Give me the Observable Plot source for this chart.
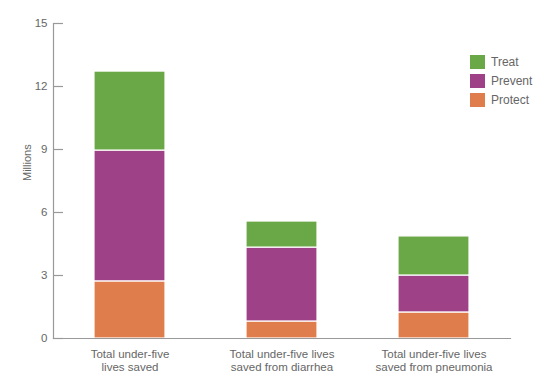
<!DOCTYPE html>
<html>
<head>
<meta charset="utf-8">
<script src="https://cdn.jsdelivr.net/npm/d3@7"></script>
<script src="https://cdn.jsdelivr.net/npm/@observablehq/plot@0.6"></script>
<style>
  body { margin: 0; background: #fff; font-family: "Liberation Sans", Arial, sans-serif; }
  #wrap { position: relative; width: 559px; height: 377px; }
  #legend { position: absolute; left: 470px; top: 52px; font-size: 12px; color: #666; }
  .item { display: flex; align-items: center; height: 19px; }
  .sw { width: 15px; height: 14px; margin-right: 6px; }
</style>
</head>
<body>
<div id="wrap"><div id="legend"></div></div>
<script>
const categories = [
  "Total under-five\nlives saved",
  "Total under-five lives\nsaved from diarrhea",
  "Total under-five lives\nsaved from pneumonia"
];
const seriesNames = ["Protect", "Prevent", "Treat"];
const protect = [2.72, 0.81, 1.24];
const prevent = [6.23, 3.52, 1.76];
const treat = [3.76, 1.24, 1.86];
const colors = ["#e07d4c", "#9f4186", "#6aa746"];
const yTicks = [0, 3, 6, 9, 12, 15];

const values = [protect, prevent, treat];
const data = [];
seriesNames.forEach((s, si) => categories.forEach((c, ci) => data.push({category: c, series: s, value: values[si][ci]})));

const chart = Plot.plot({
  width: 559,
  height: 377,
  marginLeft: 53,
  marginRight: 49,
  marginTop: 23,
  marginBottom: 39,
  style: {fontFamily: "'Liberation Sans', Arial, sans-serif", fontSize: "11.5px", color: "#666", background: "#fff"},
  x: {domain: categories, paddingInner: 0.53, paddingOuter: 0.265},
  y: {domain: [0, 15]},
  color: {domain: seriesNames, range: colors},
  marks: [
    Plot.barY(data, Plot.stackY({x: "category", y: "value", fill: "series", order: seriesNames, stroke: "#fff", strokeWidth: 1.2})),
    Plot.axisX({label: null, tickSize: 0, tickPadding: 10, lineHeight: 1.15, fontSize: 11.5, fill: "#666"}),
    Plot.axisY({ticks: yTicks, label: null, tickSize: 0, tickPadding: 6, fontSize: 11.5, fill: "#666"}),
    Plot.frame({anchor: "bottom", stroke: "#999", strokeWidth: 1.2}),
    Plot.frame({anchor: "left", stroke: "#999", strokeWidth: 1.2}),
    Plot.ruleY(yTicks, {stroke: "#999", insetRight: 457 - 10, strokeWidth: 1.2}),
    Plot.text(["Millions"], {frameAnchor: "left", dx: -26, rotate: -90, fontSize: 11, fill: "#666"})
  ]
});
document.getElementById("wrap").prepend(chart);

const legend = document.getElementById("legend");
["Treat", "Prevent", "Protect"].forEach(name => {
  const i = seriesNames.indexOf(name);
  const d = document.createElement("div");
  d.className = "item";
  d.innerHTML = `<div class="sw" style="background:${colors[i]}"></div><span>${name}</span>`;
  legend.appendChild(d);
});
</script>
</body>
</html>
